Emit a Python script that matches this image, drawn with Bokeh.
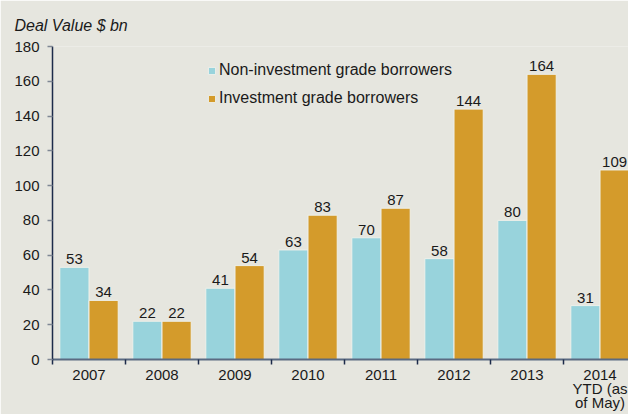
from bokeh.plotting import figure
from bokeh.models import Range1d, FixedTicker, ColumnDataSource, Legend, LegendItem, Title
from bokeh.core.properties import value
from bokeh.embed import file_html
from bokeh.resources import INLINE

# ---- data ----
categories = ["2007", "2008", "2009", "2010", "2011", "2012", "2013", "2014\nYTD (as\nof May)"]
non_investment = [53, 22, 41, 63, 70, 58, 80, 31]
investment = [34, 22, 54, 83, 87, 144, 164, 109]
y_ticks = [0, 20, 40, 60, 80, 100, 120, 140, 160, 180]

BG = "#e6e6df"
BLUE = "#98d3dc"
ORANGE = "#d49b2b"
FONT = "Liberation Sans"
FS = "15px"

n = len(categories)
x_blue = [i + 0.3 for i in range(n)]
x_orange = [i + 0.7 for i in range(n)]

src_b = ColumnDataSource(dict(x=x_blue, top=non_investment, lab=[str(v) for v in non_investment]))
src_o = ColumnDataSource(dict(x=x_orange, top=investment, lab=[str(v) for v in investment]))

p = figure(width=628, height=414, output_backend="svg", toolbar_location=None,
           x_range=Range1d(0, 7.89), y_range=Range1d(0, 180),
           min_border_left=52, min_border_right=0, min_border_top=46, min_border_bottom=55,
           background_fill_color=BG, border_fill_color=BG, outline_line_color=None)
p.grid.visible = False

rb = p.vbar(x="x", top="top", width=0.4, source=src_b, fill_color=BLUE, line_color="#eef0ea", line_width=1)
ro = p.vbar(x="x", top="top", width=0.4, source=src_o, fill_color=ORANGE, line_color="#eef0ea", line_width=1)

for src in (src_b, src_o):
    p.text(x="x", y="top", text="lab", source=src, text_align="center", text_baseline="bottom",
           y_offset=-3, text_font=value(FONT), text_font_size=FS, text_color="#1a1a1a")

xa = p.xaxis[0]
xa.ticker = FixedTicker(ticks=[i + 0.5 for i in range(n)], minor_ticks=list(range(n + 1)))
xa.major_label_overrides = {i + 0.5: c for i, c in enumerate(categories)}
xa.major_tick_line_color = None
xa.major_tick_out = 0
xa.major_tick_in = 0
xa.minor_tick_line_color = "#1c2b4a"
xa.minor_tick_out = 5
xa.minor_tick_in = 0
xa.minor_tick_line_width = 1.5
xa.axis_line_color = "#5a6a82"
xa.axis_line_width = 2
xa.major_label_standoff = 1
xa.major_label_text_font = FONT
xa.major_label_text_font_size = FS
xa.major_label_text_color = "#1a1a1a"
xa.major_label_text_line_height = 0.83

# y axis
ya = p.yaxis[0]
ya.ticker = FixedTicker(ticks=y_ticks)
ya.minor_tick_line_color = None
ya.major_tick_out = 5
ya.major_tick_in = 0
ya.major_tick_line_color = "#7f8794"
ya.major_tick_line_width = 1.5
ya.axis_line_color = "#1c2b4a"
ya.axis_line_width = 1.5
ya.major_label_standoff = 8
ya.major_label_text_font = FONT
ya.major_label_text_font_size = FS
ya.major_label_text_color = "#1a1a1a"

title = Title(text="Deal Value $ bn", align="left", offset=-38, standoff=25,
              text_font=FONT, text_font_style="italic", text_font_size="16px",
              text_color="#1a1a1a")
p.add_layout(title, "above")

legend = Legend(items=[LegendItem(label="Non-investment grade borrowers", renderers=[rb]),
                       LegendItem(label="Investment grade borrowers", renderers=[ro])],
                location=(155, 251), padding=0, margin=0, spacing=8,
                glyph_width=9, glyph_height=9, label_height=20, label_standoff=3,
                label_text_font=FONT, label_text_font_size="16px", label_text_color="#1a1a1a",
                background_fill_alpha=0, border_line_color=None)
p.add_layout(legend, "center")

open("out.html", "w").write(file_html(p, INLINE))
